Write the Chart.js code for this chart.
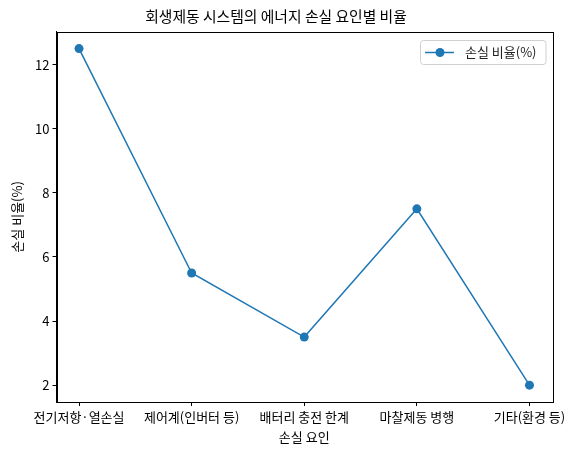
<!DOCTYPE html>
<html>
<head>
<meta charset="utf-8">
<script src="https://cdn.jsdelivr.net/npm/chart.js@4.4.1/dist/chart.umd.min.js"></script>
<style>
  html, body { margin: 0; padding: 0; background: #fff; }
  #wrap { width: 578px; height: 454px; }
</style>
</head>
<body>
<div id="wrap"><canvas id="c" width="578" height="454"></canvas></div>
<script>
// 손실 요인별 비율 데이터
var categories = ["전기저항·열손실", "제어계(인버터 등)", "배터리 충전 한계", "마찰제동 병행", "기타(환경 등)"];
var lossRatio = [12.5, 5.5, 3.5, 7.5, 2];
var yTicks = [2, 4, 6, 8, 10, 12];
var seriesName = "손실 비율(%)";

var FONT = "'Noto Sans CJK KR', 'Noto Sans', sans-serif";
var BLUE = "#1f77b4";

// 축 테두리 (위/오른쪽 포함)
var frame = {
    id: "frame",
    afterDatasetsDraw: function (chart) {
        var a = chart.chartArea, ctx = chart.ctx;
        ctx.save();
        ctx.strokeStyle = "#000";
        ctx.lineWidth = 1;
        ctx.strokeRect(Math.round(a.left) + 0.5, Math.round(a.top) + 0.5,
            Math.round(a.right - a.left), Math.round(a.bottom - a.top));
        ctx.restore();
    }
};

// matplotlib 스타일 범례
var legendBox = {
    id: "legendBox",
    afterDraw: function (chart) {
        var a = chart.chartArea, ctx = chart.ctx;
        ctx.save();
        ctx.font = "13px " + FONT;
        var tw = ctx.measureText(seriesName).width;
        var w = tw + 54, h = 24;
        var x = Math.round(a.right - 6 - w), y = Math.round(a.top + 8);
        ctx.beginPath();
        ctx.roundRect(x + 0.5, y + 0.5, w, h, 3);
        ctx.fillStyle = "rgba(255,255,255,0.8)";
        ctx.fill();
        ctx.strokeStyle = "#d0d0d0";
        ctx.lineWidth = 1;
        ctx.stroke();
        var cy = y + h / 2 + 0.5;
        ctx.strokeStyle = BLUE;
        ctx.lineWidth = 1.5;
        ctx.beginPath();
        ctx.moveTo(x + 5, cy);
        ctx.lineTo(x + 34, cy);
        ctx.stroke();
        ctx.fillStyle = BLUE;
        ctx.beginPath();
        ctx.arc(x + 20, cy, 4.5, 0, Math.PI * 2);
        ctx.fill();
        ctx.fillStyle = "#222";
        ctx.textBaseline = "middle";
        ctx.fillText(seriesName, x + 45, cy);
        ctx.restore();
    }
};

var points = lossRatio.map(function (v, i) { return { x: i, y: v }; });

new Chart(document.getElementById("c").getContext("2d"), {
    type: "line",
    data: {
        datasets: [{
            label: seriesName,
            data: points,
            borderColor: BLUE,
            backgroundColor: BLUE,
            borderWidth: 1.5,
            pointRadius: 4.5,
            pointHoverRadius: 4.5,
            pointBorderWidth: 0,
            tension: 0,
            fill: false
        }]
    },
    options: {
        responsive: false,
        animation: false,
        layout: { padding: { left: 0, right: 26, top: 0, bottom: 0 } },
        plugins: {
            legend: { display: false },
            tooltip: { enabled: false },
            title: {
                display: true,
                text: "회생제동 시스템의 에너지 손실 요인별 비율",
                color: "#000",
                font: { family: FONT, size: 14.8, weight: "normal" },
                padding: { top: 7, bottom: 7 }
            }
        },
        scales: {
            x: {
                type: "linear",
                min: -0.2,
                max: categories.length - 1 + 0.2,
                afterBuildTicks: function (s) {
                    s.ticks = categories.map(function (c, i) { return { value: i }; });
                },
                afterFit: function (s) { s.height = 52; },
                ticks: {
                    color: "#000",
                    font: { family: FONT, size: 13 },
                    padding: 3,
                    maxRotation: 0,
                    autoSkip: false,
                    callback: function (v) { return categories[v]; }
                },
                grid: { drawOnChartArea: false, drawTicks: true, tickLength: 4, color: "#000" },
                border: { display: true, color: "#000" },
                title: {
                    display: true,
                    text: "손실 요인",
                    color: "#000",
                    font: { family: FONT, size: 13 },
                    padding: { top: 0, bottom: 9 }
                }
            },
            y: {
                min: 1.475,
                max: 13.025,
                afterBuildTicks: function (s) {
                    s.ticks = yTicks.map(function (v) { return { value: v }; });
                },
                afterFit: function (s) { s.width = 56.5; },
                ticks: {
                    color: "#000",
                    font: { family: FONT, size: 13 },
                    padding: 3
                },
                grid: { drawOnChartArea: false, drawTicks: true, tickLength: 4, color: "#000" },
                border: { display: true, color: "#000" },
                title: {
                    display: true,
                    text: "손실 비율(%)",
                    color: "#000",
                    font: { family: FONT, size: 13 },
                    padding: { top: 9, bottom: 2 }
                }
            }
        }
    },
    plugins: [frame, legendBox]
});
</script>
</body>
</html>
